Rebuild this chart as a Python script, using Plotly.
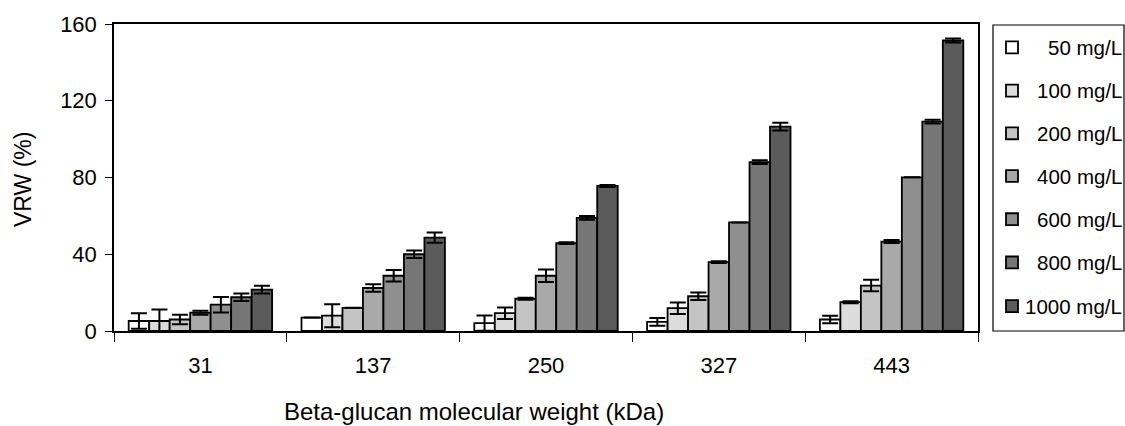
import plotly.graph_objects as go

categories = ["31", "137", "250", "327", "443"]
series_names = ["50 mg/L", "100 mg/L", "200 mg/L", "400 mg/L", "600 mg/L", "800 mg/L", "1000 mg/L"]
values = {
    "50 mg/L":   [5.2, 7.0, 4.1, 4.8, 6.0],
    "100 mg/L":  [5.2, 8.0, 9.3, 11.9, 15.0],
    "200 mg/L":  [6.0, 12.1, 16.8, 18.1, 23.7],
    "400 mg/L":  [9.5, 22.4, 28.8, 35.9, 46.6],
    "600 mg/L":  [13.7, 28.8, 45.8, 56.6, 80.1],
    "800 mg/L":  [17.6, 40.0, 59.0, 88.0, 109.1],
    "1000 mg/L": [21.6, 48.7, 75.6, 106.5, 151.4],
}
errors = {
    "50 mg/L":   [4.0, 0.0, 4.0, 2.0, 2.0],
    "100 mg/L":  [6.0, 6.0, 3.0, 3.0, 0.5],
    "200 mg/L":  [2.5, 0.0, 0.5, 2.0, 3.0],
    "400 mg/L":  [1.0, 2.0, 3.3, 0.5, 0.8],
    "600 mg/L":  [4.0, 3.0, 0.5, 0.0, 0.0],
    "800 mg/L":  [2.0, 2.0, 1.0, 1.0, 1.0],
    "1000 mg/L": [2.0, 2.7, 0.5, 2.0, 1.0],
}
colors = ["#ffffff", "#dcdcdc", "#c4c4c4", "#a9a9a9", "#8f8f8f", "#767676", "#5b5b5b"]
y_ticks = [0, 40, 80, 120, 160]
x_title = "Beta-glucan molecular weight (kDa)"
y_title = "VRW (%)"

FONT = "Liberation Sans, Arial, sans-serif"

fig = go.Figure()
for name, col in zip(series_names, colors):
    fig.add_trace(go.Bar(
        x=categories, y=values[name], name=name,
        marker=dict(color=col, line=dict(color="black", width=1.8)),
        error_y=dict(type="data", array=errors[name], visible=True,
                     color="black", thickness=2, width=8),
        showlegend=False,
    ))

# plot-area pixel geometry
L, R, T, B = 114, 978, 22, 331
W, H = 1125, 426

def px_to_paper_x(px):
    return (px - L) / (R - L)

def py_to_paper_y(py):
    return (B - py) / (B - T)

shapes = []
annotations = []
# legend box
shapes.append(dict(type="rect", xref="paper", yref="paper",
                   x0=px_to_paper_x(993), x1=px_to_paper_x(1124),
                   y0=py_to_paper_y(331), y1=py_to_paper_y(23),
                   line=dict(color="black", width=1.2), fillcolor="rgba(0,0,0,0)"))
item_y = [45.5, 89, 132, 175, 218.5, 262, 306]
for name, col, yy in zip(series_names, colors, item_y):
    shapes.append(dict(type="rect", xref="paper", yref="paper",
                       x0=px_to_paper_x(1006), x1=px_to_paper_x(1018),
                       y0=py_to_paper_y(yy + 6), y1=py_to_paper_y(yy - 6),
                       line=dict(color="black", width=1.8), fillcolor=col))
    annotations.append(dict(xref="paper", yref="paper",
                            x=px_to_paper_x(1124), y=py_to_paper_y(yy),
                            text=name, showarrow=False, xanchor="right", yanchor="middle",
                            font=dict(family=FONT, size=20.5, color="black")))

# axis titles
annotations.append(dict(xref="paper", yref="paper",
                        x=px_to_paper_x(474), y=py_to_paper_y(412),
                        text=x_title, showarrow=False, xanchor="center", yanchor="middle",
                        font=dict(family=FONT, size=24, color="black")))
annotations.append(dict(xref="paper", yref="paper",
                        x=px_to_paper_x(23), y=py_to_paper_y(179),
                        text=y_title, showarrow=False, textangle=-90,
                        xanchor="center", yanchor="middle",
                        font=dict(family=FONT, size=23, color="black")))

fig.update_layout(
    width=W, height=H,
    margin=dict(l=L, r=W - R, t=T, b=H - B, pad=0),
    paper_bgcolor="white", plot_bgcolor="white",
    barmode="group", bargap=0.17, bargroupgap=0,
    font=dict(family=FONT, size=22, color="black"),
    shapes=shapes, annotations=annotations,
    xaxis=dict(
        type="category", tickson="boundaries", ticks="outside", ticklen=9,
        tickwidth=1.2, tickcolor="black", showline=True, linecolor="black",
        linewidth=1.5, mirror=True, showgrid=False,
        ticklabelstandoff=14,
        tickfont=dict(family=FONT, size=22),
    ),
    yaxis=dict(
        range=[0, 160], tickvals=y_ticks, ticks="outside", ticklen=7,
        tickwidth=1.2, tickcolor="black", showline=True, linecolor="black",
        linewidth=1.5, mirror=True, showgrid=False, zeroline=False,
        ticklabelstandoff=4,
        tickfont=dict(family=FONT, size=22),
    ),
)

fig.write_html("out.html")
